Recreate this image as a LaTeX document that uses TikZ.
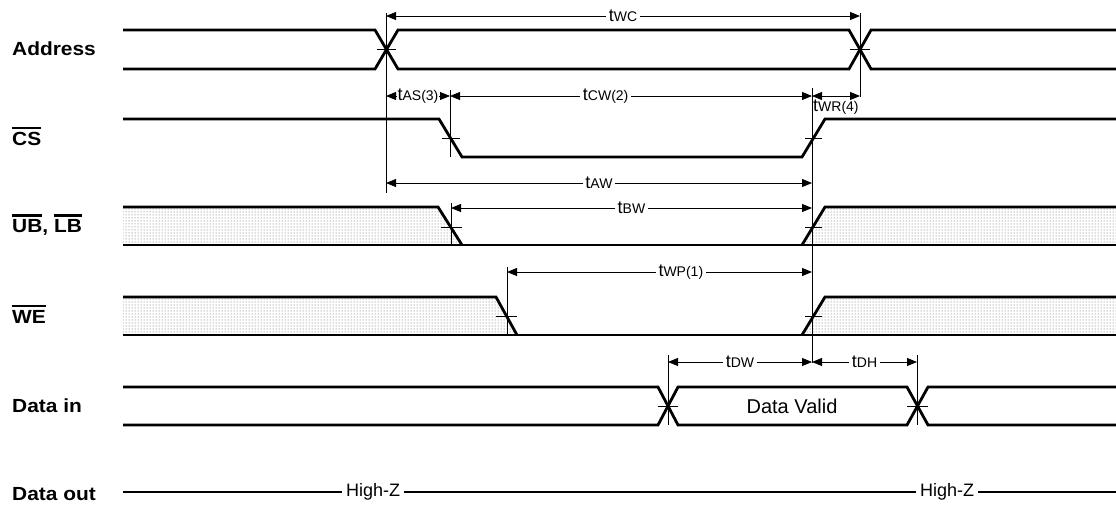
\documentclass[tikz,border=0pt]{standalone}
\usepackage{fontspec}
\setmainfont{Liberation Sans}
\newfontfamily\lblfont[FakeStretch=1.1]{Liberation Sans}
\usetikzlibrary{arrows.meta,patterns}

\newcommand\ovl[1]{\leavevmode\vbox{\hrule height 2.4pt\kern2.8pt\hbox{#1}}}
\newcommand\tm[1]{t{\fontsize{14}{14}\selectfont #1}}

\tikzset{
	sig/.style={line width=2.8pt},
	dim/.style={line width=0.8pt},
	dimarr/.style={dim,{Triangle[length=10pt,width=8pt]}-{Triangle[length=10pt,width=8pt]}},
	tick/.style={line width=0.9pt},
	lbl/.style={anchor=west,inner sep=0pt,font=\lblfont\bfseries\fontsize{19}{19}\selectfont},
	tlbl/.style={fill=white,inner sep=2.5pt,font=\fontsize{18}{18}\selectfont},
	dotted area/.style={pattern=dots,pattern color=black!65},
}

\begin{document}
\begin{tikzpicture}[x=1pt,y=-1pt]
	\useasboundingbox (0,0) rectangle (1116,509);
	% time marks
	\coordinate (tA) at (386,0);
	\coordinate (tB) at (450,0);
	\coordinate (tC) at (451,0);
	\coordinate (tD) at (507,0);
	\coordinate (tE) at (668,0);
	\coordinate (tF) at (812,0);
	\coordinate (tG) at (860,0);
	\coordinate (tH) at (917,0);
	% signal names
	\node[lbl] (nAddr) at (12,49) {Address};
	\node[lbl] (nCS) at (12,136) {\ovl{CS}};
	\node[lbl] (nUB) at (12,225) {\ovl{UB}, \ovl{LB}};
	\node[lbl] (nWE) at (12,314) {\ovl{WE}};
	\node[lbl] (nDin) at (12,406) {Data in};
	\node[lbl] (nDout) at (12,494) {Data out};
	% shaded parts
	\fill[dotted area] (123,207) -- (438,207) -- (462,245) -- (123,245) -- cycle;
	\fill[dotted area] (802,245) -- (825,207) -- (1116,207) -- (1116,245) -- cycle;
	\fill[dotted area] (123,297) -- (496,297) -- (517,335) -- (123,335) -- cycle;
	\fill[dotted area] (802,335) -- (825,297) -- (1116,297) -- (1116,335) -- cycle;
	% waveforms
	\draw[sig] (123,30) -- (375,30) -- (398,69) -- (849,69) -- (871,30) -- (1116,30);
	\draw[sig] (123,69) -- (375,69) -- (398,30) -- (849,30) -- (871,69) -- (1116,69);
	\draw[sig] (123,119) -- (439,119) -- (462,157) -- (802,157) -- (825,119) -- (1116,119);
	\draw[sig] (123,207) -- (438,207) -- (462,245);
	\draw[sig] (123,245) -- (1116,245);
	\draw[sig] (802,245) -- (825,207) -- (1116,207);
	\draw[sig] (123,297) -- (496,297) -- (517,335);
	\draw[sig] (123,335) -- (1116,335);
	\draw[sig] (802,335) -- (825,297) -- (1116,297);
	\draw[sig] (123,387) -- (658,387) -- (678,425) -- (907,425) -- (928,387) -- (1116,387);
	\draw[sig] (123,425) -- (658,425) -- (678,387) -- (907,387) -- (928,425) -- (1116,425);
	\draw[line width=1.4pt] (123,492) -- node[tlbl,pos=0.252,inner sep=4pt] (hz1) {High-Z}
		node[tlbl,pos=0.83,inner sep=4pt] (hz2) {High-Z} (1116,492);
	\node[font=\fontsize{20}{20}\selectfont] (valid) at (792,406) {Data Valid};
	% crossing ticks
	\foreach \xa/\xb/\y in {377/396/49,850/870/49,442/460/138,805/822/138,
		441/462/227,805/822/227,496/517/316,805/822/316,658/678/406,907/928/406}
		\draw[tick] (\xa,\y) -- (\xb,\y);
	% reference lines
	\draw[dim] (tA |- 0,13) -- (tA |- 0,193);
	\draw[dim] (tG |- 0,13) -- (tG |- 0,97);
	\draw[dim] (tB |- 0,90) -- (tB |- 0,157);
	\draw[dim] (tF |- 0,88) -- (tF |- 0,363);
	\draw[dim] (tC |- 0,203) -- (tC |- 0,245);
	\draw[dim] (tD |- 0,267) -- (tD |- 0,335);
	\draw[dim] (tE |- 0,355) -- (tE |- 0,425);
	\draw[dim] (tH |- 0,355) -- (tH |- 0,425);
	% timing parameters
	\draw[dimarr] (tA |- 0,16) -- node[tlbl] (wc) {\tm{WC}} (tG |- 0,16);
	\draw[dimarr] (tA |- 0,96) -- node[tlbl,inner sep=0.3pt] (as) {\tm{AS(3)}} (tB |- 0,96);
	\draw[dimarr] (tB |- 0,96) -- node[tlbl,pos=0.43] (cw) {\tm{CW(2)}} (tF |- 0,96);
	\draw[dimarr] (tF |- 0,96) -- (tG |- 0,96);
	\node[anchor=north west,inner sep=1pt,font=\fontsize{18}{18}\selectfont] (wr) at (tF |- 0,99) {\tm{WR(4)}};
	\draw[dimarr] (tA |- 0,183) -- node[tlbl] (aw) {\tm{AW}} (tF |- 0,183);
	\draw[dimarr] (tC |- 0,208) -- node[tlbl] (bw) {\tm{BW}} (tF |- 0,208);
	\draw[dimarr] (tD |- 0,272) -- node[tlbl,pos=0.57] (wp) {\tm{WP(1)}} (tF |- 0,272);
	\draw[dimarr] (tE |- 0,362) -- node[tlbl] (dw) {\tm{DW}} (tF |- 0,362);
	\draw[dimarr] (tF |- 0,362) -- node[tlbl] (dh) {\tm{DH}} (tH |- 0,362);
\end{tikzpicture}
\end{document}
